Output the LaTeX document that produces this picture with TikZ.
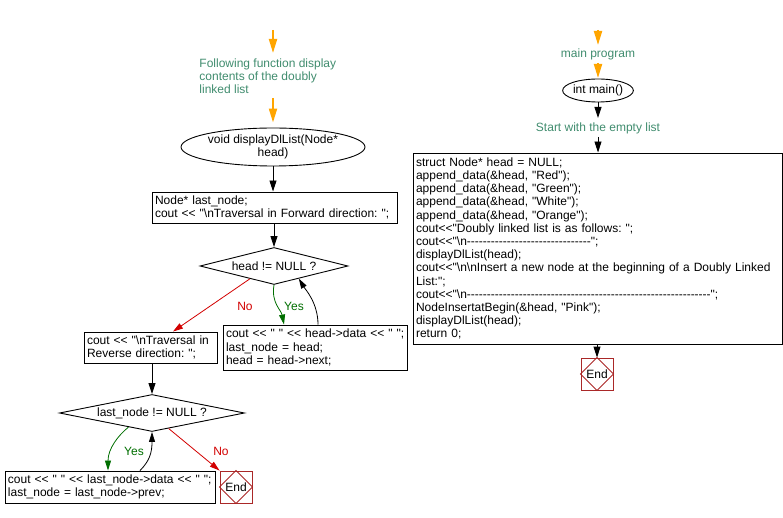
\documentclass[tikz,border=0pt]{standalone}
\usepackage{fontspec}
\setmainfont{Liberation Sans}[Ligatures=TeXOff]
\usetikzlibrary{shapes.geometric,arrows.meta}
\definecolor{cmt}{RGB}{64,140,110}
\definecolor{orng}{RGB}{255,165,0}
\definecolor{yesg}{RGB}{0,110,0}
\definecolor{nor}{RGB}{210,0,0}
\definecolor{endr}{RGB}{170,40,40}
\frenchspacing
\begin{document}
\begin{tikzpicture}[x=1pt,y=-1pt,
  font=\fontsize{12}{13.2}\selectfont\frenchspacing,
  every node/.style={line width=0.9pt},
  box/.style={draw,rectangle,align=left,inner xsep=3pt,inner ysep=0pt},
  oval/.style={draw,ellipse,inner sep=0pt,align=center},
  dia/.style={draw,diamond,inner sep=0pt},
  cmtxt/.style={text=cmt,inner sep=0pt,align=left},
  endbox/.style={draw=endr,rectangle,minimum width=32pt,minimum height=32pt,inner sep=0pt},
  barr/.style={line width=0.9pt,-{Triangle[length=11pt,width=7pt]}},
  oarr/.style={draw=orng,line width=2pt,-{Triangle[length=14pt,width=8pt]}},
  yarr/.style={draw=yesg,line width=0.8pt,-{Triangle[length=10pt,width=6pt]}},
  narr/.style={draw=nor,line width=0.8pt,-{Triangle[length=10pt,width=6pt]}},
  rarr/.style={line width=0.8pt,-{Triangle[length=10pt,width=6pt]}},
  ylab/.style={text=yesg,inner sep=0pt},
  nlab/.style={text=nor,inner sep=0pt}]
\useasboundingbox (0,0) rectangle (783,518);

% ---------- left column ----------
\coordinate (o1) at (273,30);
\node[cmtxt,anchor=west] (cm1) at (199,76) {Following function display\\contents of the doubly\\linked list};
\node[oval,minimum width=160pt,minimum height=38pt] (e1) at (273,147) {void displayDlList(Node*\\head)};
\node[box,minimum width=245pt,text width=239pt,minimum height=31pt] (b1) at (274.5,207.5)
  {Node* last\_node;\\\mbox{cout << "\textbackslash nTraversal in Forward direction: ";}};
\node[dia,shape aspect=4,minimum width=148pt,minimum height=37pt] (d1) at (274,266) {head != NULL ?};
\node[box,minimum width=184pt,text width=178pt,minimum height=45pt] (b2) at (315,347.5)
  {\mbox{cout << " " << head->data << " ";}\\last\_node = head;\\head = head->next;};
\node[box,minimum width=133pt,text width=127pt,minimum height=31pt] (b3) at (150.5,347.5)
  {cout << "\textbackslash nTraversal in\\Reverse direction: ";};
\node[dia,shape aspect=5,minimum width=185pt,minimum height=37pt] (d2) at (152,413) {last\_node != NULL ?};
\node[box,minimum width=210pt,text width=204pt,minimum height=32pt] (b4) at (110,487)
  {\mbox{cout << " " << last\_node->data << " ";}\\last\_node = last\_node->prev;};
\node[endbox] (en1) at (236,487) {End};
\draw[endr,line width=0.9pt] (en1.north) -- (en1.east) -- (en1.south) -- (en1.west) -- cycle;

\draw[oarr] (o1) -- (273,53);
\draw[oarr,shorten >=5pt] (273,98) -- (e1.north);
\draw[barr] (e1.south) -- (b1.north -| e1.south);
\draw[barr] (b1.south -| d1.north) -- (d1.north);
\draw[narr] (d1.208) -- ([xshift=22.5pt]b3.north);
\node[nlab] (no1) at (245,306) {No};
\draw[yarr] (d1.south) .. controls +(-3,18) and +(-3,-15) .. ([xshift=-31pt]b2.north);
\node[ylab] (yes1) at (294,306) {Yes};
\draw[rarr] ([xshift=3pt]b2.north) .. controls +(0,-22) and +(6,10) .. (d1.333);
\draw[barr] (b3.south -| d2.north) -- (d2.north);
\draw[yarr] (d2.211) .. controls +(-10,8) and +(0,-22) .. ([xshift=-2pt]b4.north);
\node[ylab] (yes2) at (134,451) {Yes};
\draw[rarr] ([xshift=30pt]b4.north) .. controls +(10,-10) and +(0,20) .. (d2.south);
\draw[narr] (d2.317) -- (en1.north west);
\node[nlab] (no2) at (221,451) {No};

% ---------- right column ----------
\coordinate (o2) at (598,30);
\node[cmtxt] (cm2) at (598,54) {main program};
\node[oval,minimum width=69pt,minimum height=23pt] (e2) at (598,90.5) {int main()};
\node[cmtxt] (cm3) at (598,128) {Start with the empty list};
\node[box,minimum width=369pt,text width=363pt,minimum height=191pt] (cb) at (597.5,248.5)
  {struct Node* head = NULL;\\
   append\_data(\&head, "Red");\\
   append\_data(\&head, "Green");\\
   append\_data(\&head, "White");\\
   append\_data(\&head, "Orange");\\
   cout<<"Doubly linked list is as follows: ";\\
   cout<<"\textbackslash n-------------------------------";\\
   displayDlList(head);\\
   \mbox{cout<<"\textbackslash n\textbackslash nInsert a new node at the beginning of a Doubly Linked}\\
   List:";\\
   cout<<"\textbackslash n-------------------------------------------------------------";\\
   NodeInsertatBegin(\&head, "Pink");\\
   displayDlList(head);\\
   return 0;};
\node[endbox] (en2) at (597,374) {End};
\draw[endr,line width=0.9pt] (en2.north) -- (en2.east) -- (en2.south) -- (en2.west) -- cycle;

\draw[oarr] (o2) -- (598,45);
\draw[oarr] (598,63) -- (598,78);
\draw[barr] (e2.south) -- (598,118);
\draw[barr] (598,137) -- (cb.north -| e2.south);
\draw[barr] (cb.south -| en2.north) -- (en2.north);
\end{tikzpicture}
\end{document}
